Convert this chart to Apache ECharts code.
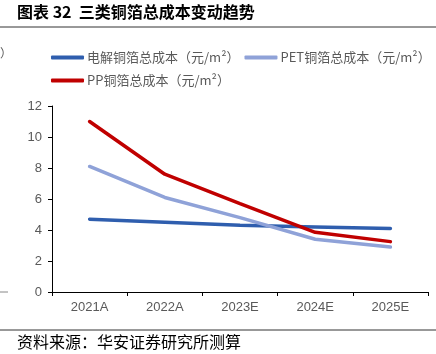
<!DOCTYPE html>
<html>
<head>
<meta charset="utf-8">
<script src="https://cdn.jsdelivr.net/npm/echarts@6/dist/echarts.min.js"></script>
<style>
  html, body { margin: 0; padding: 0; background: #fff; }
  #chart { width: 436px; height: 354px; }
</style>
</head>
<body>
<div id="chart"></div>
<script>
var years = ['2021A', '2022A', '2023E', '2024E', '2025E'];
var elecCost = [4.7, 4.5, 4.3, 4.2, 4.1];
var petCost = [8.1, 6.1, 4.8, 3.4, 2.9];
var ppCost = [11.0, 7.6, 5.7, 3.85, 3.25];
var yTicks = [0, 2, 4, 6, 8, 10, 12];

var myChart = echarts.init(document.getElementById('chart'));
var font = '"Noto Sans CJK SC", "Liberation Sans", sans-serif';
var numFont = '"Liberation Sans", Arial, sans-serif';

var option = {
    animation: false,
    textStyle: { fontFamily: font },
    graphic: [
        { type: 'text', left: 17, top: 4, style: { text: '图表 32  三类铜箔总成本变动趋势', fontSize: 16, fontWeight: 'bold', fill: '#000', fontFamily: font } },
        { type: 'line', shape: { x1: 0, y1: 27, x2: 436, y2: 27 }, style: { stroke: '#333', lineWidth: 1 } },
        { type: 'text', x: 0, y: 47, style: { text: '）', fontSize: 12, fill: '#595959', fontFamily: font } },
        { type: 'line', shape: { x1: 0, y1: 292, x2: 8, y2: 292 }, style: { stroke: '#888', lineWidth: 1 } },
        { type: 'line', shape: { x1: 0, y1: 330, x2: 436, y2: 330 }, style: { stroke: '#333', lineWidth: 1 } },
        { type: 'text', left: 17, top: 334, style: { text: '资料来源：华安证券研究所测算', fontSize: 16, fill: '#000', fontFamily: font } }
    ],
    legend: [{
        data: ['电解铜箔总成本（元/m²）', 'PET铜箔总成本（元/m²）'],
        left: 46, top: 46, width: 420,
        itemWidth: 33, itemHeight: 4, itemGap: 5,
        icon: 'roundRect',
        textStyle: { color: '#595959', fontSize: 13, padding: [0, 0, 0, -2] }
    }, {
        data: ['PP铜箔总成本（元/m²）'],
        left: 46, top: 69,
        itemWidth: 33, itemHeight: 4,
        icon: 'roundRect',
        textStyle: { color: '#595959', fontSize: 13, padding: [0, 0, 0, -2] }
    }],
    grid: { left: 52, right: 8, top: 106, bottom: 62 },
    xAxis: {
        type: 'category',
        data: years,
        axisLine: { lineStyle: { color: '#000', width: 1 } },
        axisTick: { show: true, length: 4, lineStyle: { color: '#000' } },
        axisLabel: { color: '#595959', fontSize: 13, margin: 9, fontFamily: numFont }
    },
    yAxis: {
        type: 'value',
        min: yTicks[0], max: yTicks[yTicks.length - 1], interval: 2,
        axisLine: { show: true, lineStyle: { color: '#000', width: 1 } },
        axisTick: { show: true, length: 4, lineStyle: { color: '#000' } },
        axisLabel: { color: '#595959', fontSize: 13, margin: 10, fontFamily: numFont },
        splitLine: { show: false }
    },
    series: [{
        name: '电解铜箔总成本（元/m²）',
        type: 'line',
        data: elecCost,
        symbol: 'none',
        lineStyle: { width: 3.5, color: '#2F5EAE', cap: 'round' },
        itemStyle: { color: '#2F5EAE' }
    }, {
        name: 'PET铜箔总成本（元/m²）',
        type: 'line',
        data: petCost,
        symbol: 'none',
        lineStyle: { width: 3.5, color: '#8FA2D8', cap: 'round' },
        itemStyle: { color: '#8FA2D8' }
    }, {
        name: 'PP铜箔总成本（元/m²）',
        type: 'line',
        data: ppCost,
        symbol: 'none',
        lineStyle: { width: 3.5, color: '#C00000', cap: 'round' },
        itemStyle: { color: '#C00000' }
    }]
};

myChart.setOption(option);
</script>
</body>
</html>
